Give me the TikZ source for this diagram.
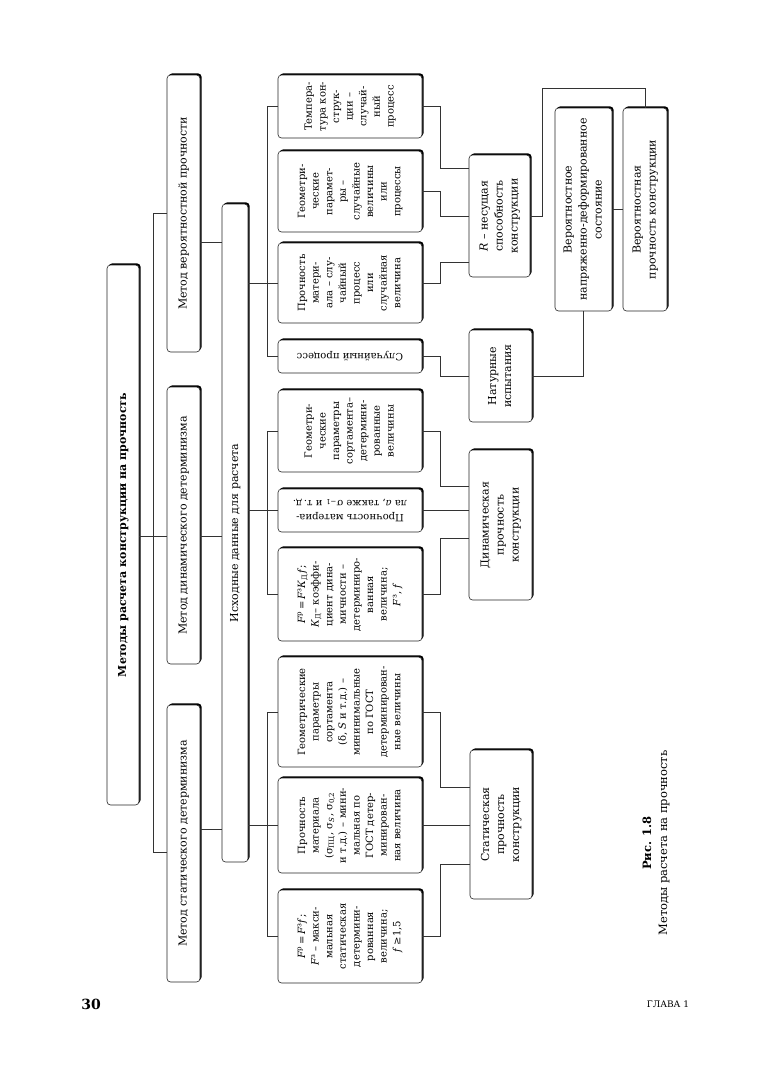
\documentclass[tikz,border=0pt]{standalone}
\usepackage{fontspec}
\setmainfont{DejaVu Serif}
\usepackage{graphicx}
\usetikzlibrary{shadows,calc}
\newcommand{\vtext}[1]{\rotatebox{90}{\begin{tabular}{@{}c@{}}#1\end{tabular}}}
\newcommand{\utext}[1]{\rotatebox{180}{\begin{tabular}{@{}c@{}}#1\end{tabular}}}
\newcommand{\Fp}{\textit{F}\textsuperscript{р}}
\newcommand{\Fz}{\textit{F}\textsuperscript{з}}
\newcommand{\Kd}{\textit{К}\textsubscript{Д}}
\begin{document}
\begin{tikzpicture}[x=1pt,y=-1pt,
 box/.style={draw=black!85, line width=0.6pt, fill=white, rounded corners=3.5pt, inner sep=0pt,
   drop shadow={shadow xshift=1.6pt, shadow yshift=1.6pt, fill=black, opacity=1}},
 big/.style={box, font=\fontsize{11}{15}\selectfont},
 small/.style={box, font=\fontsize{10}{13.6}\selectfont},
 link/.style={draw=black!80, line width=0.6pt}]
\useasboundingbox (0,0) rectangle (768,1080);
\fill[white] (0,0) rectangle (768,1080);

% level 1
\node[big, minimum width=32pt, minimum height=540pt] (T) at (123,535) {\vtext{\bfseries Методы расчета конструкции на прочность}};
% methods
\node[big, minimum width=33pt, minimum height=277pt] (MP) at (183.5,213.5) {\vtext{Метод вероятностной прочности}};
\node[big, minimum width=33pt, minimum height=277pt] (MD) at (183.5,525.5) {\vtext{Метод динамического детерминизма}};
\node[big, minimum width=33pt, minimum height=277pt] (MS) at (183.5,843.5) {\vtext{Метод статического детерминизма}};
% initial data
\node[big, minimum width=26pt, minimum height=658pt] (I) at (235,533) {\vtext{Исходные данные для расчета}};

% level 3
\node[small, minimum width=144pt, minimum height=63pt] (P1) at (350,106.5) {\vtext{Темпера-\\тура кон-\\струк-\\ции –\\случай-\\ный\\процесс}};
\node[small, minimum width=144pt, minimum height=81pt] (P2) at (350,191.5) {\vtext{Геометри-\\ческие\\парамет-\\ры –\\случайные\\величины\\или\\процессы}};
\node[small, minimum width=144pt, minimum height=80pt] (P3) at (350,283) {\vtext{Прочность\\матери-\\ала – слу-\\чайный\\процесс\\или\\случайная\\величина}};
\node[small, minimum width=144pt, minimum height=33pt] (P4) at (350,356.5) {\utext{Случайный процесс}};

\node[small, minimum width=144pt, minimum height=82pt] (D1) at (350,431) {\vtext{Геометри-\\ческие\\параметры\\сортамента–\\детермини-\\рованные\\величины}};
\node[small, minimum width=144pt, minimum height=43pt] (D2) at (350,510.5) {\utext{Прочность материа-\\ла \textit{a}, также σ\textsubscript{−1} и т.\,д.}};
\node[small, minimum width=144pt, minimum height=93pt] (D3) at (350,594.5) {\vtext{\Fp\,=\,\Fz\Kd\textit{f};\\\Kd– коэффи-\\циент дина-\\мичности –\\детерминиро-\\ванная\\величина;\\\Fz, \textit{f}}};

\node[small, minimum width=144pt, minimum height=110pt] (S1) at (350,712) {\vtext{Геометрические\\параметры\\сортамента\\(δ, \textit{S} и т.д.) –\\мининимальные\\по ГОСТ\\детерминирован-\\ные величины}};
\node[small, minimum width=144pt, minimum height=95pt] (S2) at (350,825.5) {\vtext{Прочность\\материала\\(σ\textsubscript{ПЦ}, σ\textsubscript{\textit{S}}, σ\textsubscript{0,2}\\и т.д.) – мини-\\мальная по\\ГОСТ детер-\\минирован-\\ная величина}};
\node[small, minimum width=144pt, minimum height=93pt] (S3) at (350,936.5) {\vtext{\Fp\,=\,\Fz\textit{f};\\\Fz{} – макси-\\мальная\\статическая\\детермини-\\рованная\\величина;\\\textit{f}\,≥1,5}};

% level 4
\node[big, minimum width=61pt, minimum height=122pt] (R) at (499.5,216) {\vtext{\textit{R} – несущая\\способность\\конструкции}};
\node[big, minimum width=63pt, minimum height=92pt] (N) at (500.5,376) {\vtext{Натурные\\испытания}};
\node[big, minimum width=63pt, minimum height=150pt] (DY) at (500.5,525) {\vtext{Динамическая\\прочность\\конструкции}};
\node[big, minimum width=62pt, minimum height=149pt] (ST) at (501,824.5) {\vtext{Статическая\\прочность\\конструкции}};
\node[big, minimum width=57pt, minimum height=203pt] (V) at (583.5,209.5) {\vtext{Вероятностное\\напряженно-деформированное\\состояние}};
\node[big, minimum width=44pt, minimum height=203pt] (VP) at (645,209.5) {\vtext{Вероятностная\\прочность конструкции}};

% helper coordinates
\coordinate (trunk) at (153,0);
\coordinate (bus) at (267,0);
\coordinate (elb) at (440,0);
\coordinate (yMP) at (0,242);
\coordinate (yMD) at (0,536);
\coordinate (yMS) at (0,829);
\coordinate (yMSl) at (0,852);
\coordinate (rx) at (542,0);
\coordinate (ry) at (0,88);

% level 1-2 connectors
\draw[link] (T.east |- yMD) -- (MD.west |- yMD);
\draw[link] (MP.west) -| (trunk |- yMSl) -- (MS.west |- yMSl);
\draw[link] (MP.east |- yMP) -- (I.west |- yMP);
\draw[link] (MD.east |- yMD) -- (I.west |- yMD);
\draw[link] (MS.east |- yMS) -- (I.west |- yMS);

% left buses
\draw[link] (I.east |- P3.west) -- (P3.west);
\draw[link] (P1.west) -| (bus |- P4.west) -- (P4.west);
\draw[link] ($(P2.west)+(0,-5)$ -| bus) -- ($(P2.west)+(0,-5)$);
\draw[link] (I.east |- D2.west) -- (D2.west);
\draw[link] (D1.west) -| (bus |- D3.west) -- (D3.west);
\draw[link] (I.east |- S2.west) -- (S2.west);
\draw[link] (S1.west) -| (bus |- S3.west) -- (S3.west);

% right elbows
\draw[link] (P1.east) -- (P1.east -| elb) |- ($(R.west)+(0,-48)$);
\draw[link] (P2.east) -- (P2.east -| elb) |- (R.west);
\draw[link] (P3.east) -- (P3.east -| elb) |- ($(R.west)+(0,46)$);
\draw[link] (P4.east) -- (P4.east -| elb) |- (N.west);
\draw[link] (D1.east) -- (D1.east -| elb) |- ($(DY.west)+(0,-39)$);
\draw[link] (D2.east) -- (D2.east -| DY.west);
\draw[link] (D3.east) -- (D3.east -| elb) |- ($(DY.west)+(0,13)$);
\draw[link] (S1.east) -- (S1.east -| elb) |- ($(ST.west)+(0,-37)$);
\draw[link] (S2.east) -- (S2.east -| ST.west);
\draw[link] (S3.east) -- (S3.east -| elb) |- ($(ST.west)+(0,40)$);

% level 4-5
\draw[link] (R.east) -| (rx |- ry) -| (VP.north);
\draw[link] (V.east) -- (VP.west);
\draw[link] (N.east) -| (V.south);

% caption and page furniture
\node[rotate=90, align=center, font=\fontsize{11.5}{16}\selectfont] (cap) at (656,843) {\textbf{Рис. 1.8}\\Методы расчета на прочность};
\node[font=\fontsize{14}{16}\selectfont\bfseries] (pg) at (91,1004) {30};
\node[font=\fontsize{9}{11}\selectfont] (ch) at (668,1004) {ГЛАВА 1};
\end{tikzpicture}
\end{document}
